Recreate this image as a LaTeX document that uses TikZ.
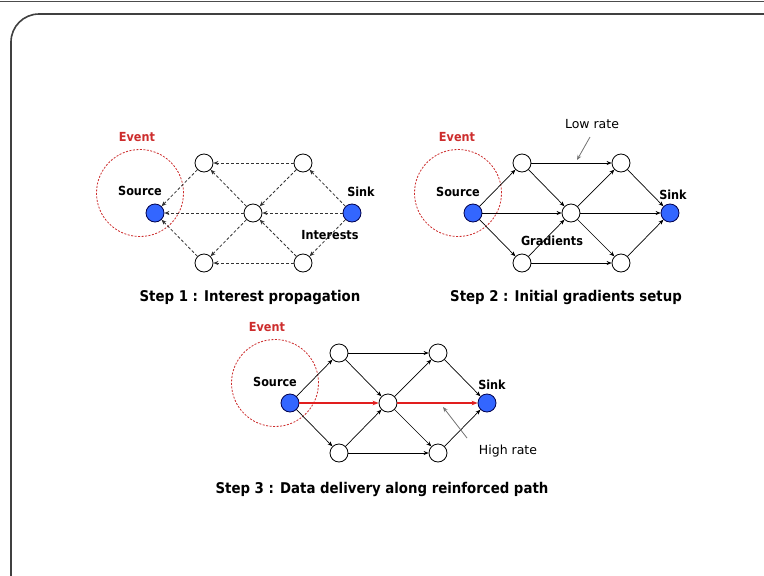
\documentclass[tikz,border=0pt]{standalone}
\usepackage{fontspec}
\setmainfont{DejaVu Sans}
\newfontfamily\condfont{DejaVu Sans Condensed}
\usetikzlibrary{arrows.meta}
\definecolor{nodeblue}{RGB}{51,102,255}
\definecolor{eventred}{RGB}{205,45,45}
\definecolor{pathred}{RGB}{225,30,30}
\tikzset{
  relay/.style={circle,draw=black,fill=white,line width=0.8pt,minimum size=18pt,inner sep=0pt},
  endpoint/.style={relay,fill=nodeblue,draw=black!70!blue},
  eventzone/.style={circle,draw=eventred,dash pattern=on 2pt off 1.5pt,line width=0.8pt,minimum size=87pt,inner sep=0pt},
  tip/.style={-{Stealth[length=5pt,width=4pt]}},
  flood/.style={tip,draw=black!80,dash pattern=on 3pt off 2pt,line width=0.8pt},
  grad/.style={tip,draw=black,line width=0.7pt},
  reinf/.style={-{Stealth[length=6pt,width=4.5pt]},draw=pathred,line width=1.6pt},
  pointer/.style={-{Stealth[length=5pt,width=4pt]},draw=black!55,line width=0.8pt},
  lbl/.style={font=\condfont\fontsize{12.5}{14}\selectfont\bfseries,inner sep=0pt},
  eventlbl/.style={lbl,text=eventred},
  ratelbl/.style={font=\fontsize{12.5}{14}\selectfont,inner sep=0pt},
  steplbl/.style={font=\condfont\fontsize{14.8}{17}\selectfont\bfseries,inner sep=0pt},
}
% seven-node field: source, two upper relays, centre, two lower relays, sink
\newcommand{\sensorfield}[1]{%
  \node[eventzone] (#1ev) at (-15,-20) {};
  \node[endpoint] (#1src) at (0,0) {};
  \node[relay] (#1tl) at (49,-50) {};
  \node[relay] (#1tr) at (148,-50) {};
  \node[relay] (#1c) at (98,0) {};
  \node[endpoint] (#1snk) at (197,0) {};
  \node[relay] (#1bl) at (49,50) {};
  \node[relay] (#1br) at (148,50) {};
}
\begin{document}
\begin{tikzpicture}[x=1pt,y=-1pt]
\useasboundingbox (0,0) rectangle (764,576);
\fill[white] (0,0) rectangle (764,576);
% slide frame
\begin{scope}
  \clip (0,0) rectangle (764,576);
  \draw[black!70,line width=0.8pt] (0,1.5) -- (764,1.5);
  \draw[black!75,line width=1.6pt,rounded corners=28pt] (11,14) rectangle (800,620);
\end{scope}

% ---------- Step 1: interest propagation ----------
\begin{scope}[shift={(155,213)}]
  \sensorfield{a}
\end{scope}
\draw[flood] (atr) -- (atl);
\draw[flood] (abr) -- (abl);
\draw[flood] (asnk) -- (atr);
\draw[flood] (asnk) -- (ac);
\draw[flood] (asnk) -- (abr);
\draw[flood] (atr) -- (ac);
\draw[flood] (abr) -- (ac);
\draw[flood] (ac) -- (atl);
\draw[flood] (ac) -- (abl);
\draw[flood] (atl) -- (asrc);
\draw[flood] (ac) -- (asrc);
\draw[flood] (abl) -- (asrc);
\node[eventlbl] (aevl) at (137,137) {Event};
\node[lbl] (asrcl) at (140,191) {Source};
\node[lbl] (asnkl) at (361,192) {Sink};
\node[lbl] (aint) at (330,235) {Interests};
\node[steplbl] (astep) at (250,297) {Step 1 : Interest propagation};

% ---------- Step 2: initial gradients ----------
\begin{scope}[shift={(473,213)}]
  \sensorfield{b}
\end{scope}
\foreach \s/\t in {src/tl,src/c,src/bl,tl/tr,tl/c,bl/c,bl/br,c/tr,c/snk,c/br,tr/snk,br/snk}
  \draw[grad] (b\s) -- (b\t);
\node[eventlbl] (bevl) at (457,137) {Event};
\node[lbl] (bsrcl) at (458,192) {Source};
\node[lbl] (bsnkl) at (673,195) {Sink};
\node[lbl] (bgrad) at (552,241) {Gradients};
\node[ratelbl] (blow) at (592,124) {Low rate};
\coordinate (blowtip) at (577,160);
\draw[pointer] (590,137) -- (blowtip);
\node[steplbl] (bstep) at (566,297) {Step 2 : Initial gradients setup};

% ---------- Step 3: reinforced delivery ----------
\begin{scope}[shift={(290,403)}]
  \sensorfield{c}
\end{scope}
\foreach \s/\t in {src/tl,src/bl,tl/tr,tl/c,bl/c,bl/br,c/tr,c/br,tr/snk,br/snk}
  \draw[grad] (c\s) -- (c\t);
\draw[reinf] (csrc) -- (cc);
\draw[reinf] (cc) -- (csnk);
\node[eventlbl] (cevl) at (267,327) {Event};
\node[lbl] (csrcl) at (275,382) {Source};
\node[lbl] (csnkl) at (492,385) {Sink};
\node[ratelbl] (chigh) at (508,451) {High rate};
\coordinate (chightip) at (443,407);
\draw[pointer] (467,438) -- (chightip);
\node[steplbl] (cstep) at (382,489) {Step 3 : Data delivery along reinforced path};
\end{tikzpicture}
\end{document}
